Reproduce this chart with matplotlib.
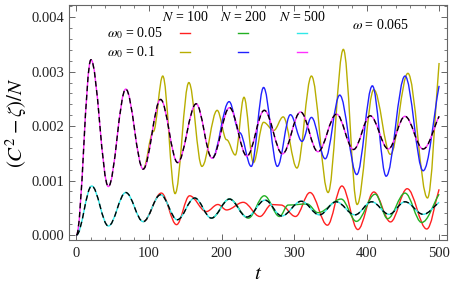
import matplotlib
matplotlib.use("Agg")
import matplotlib.pyplot as plt
from matplotlib.path import Path
from matplotlib.patches import PathPatch
from matplotlib.ticker import MultipleLocator, FormatStrFormatter

plt.rcParams['font.family'] = ['Liberation Serif', 'DejaVu Serif']
plt.rcParams['mathtext.fontset'] = 'stix'

# turning points (t, value in units of 1e-3)
# N = 500 curves coincide with the dashed black reference
t_up = [0, 20, 44, 68, 92, 116, 139.5, 165, 187, 211, 235, 259, 284, 309, 333, 358.6, 382, 405, 430, 453, 478, 500]
v_up = [0, 3.22, 0.89, 2.68, 1.21, 2.49, 1.33, 2.41, 1.41, 2.34, 1.45, 2.29, 1.49, 2.26, 1.53, 2.22, 1.57, 2.19, 1.58, 2.18, 1.58, 2.18]

t_lo = [0, 21, 44, 68, 92, 116, 139, 163, 186, 211, 235, 260, 283, 310, 335, 358, 384, 407, 431, 453, 478, 500]
v_lo = [0, 0.90, 0.165, 0.78, 0.245, 0.74, 0.28, 0.68, 0.31, 0.66, 0.33, 0.64, 0.35, 0.62, 0.37, 0.61, 0.37, 0.61, 0.38, 0.61, 0.38, 0.60]

# N = 100, w0 = 0.1 (from where it leaves the reference)
t_yel = [92, 106, 119, 136, 155, 173, 194, 207, 219, 231, 244, 258, 272, 285, 304, 324, 347, 368, 387, 410, 433, 457, 484, 500]
v_yel = [1.21, 1.90, 2.92, 0.76, 2.80, 1.26, 2.29, 1.75, 1.47, 2.53, 1.33, 2.07, 1.92, 2.17, 1.23, 2.92, 0.78, 3.41, 0.56, 2.67, 1.48, 2.97, 0.68, 3.16]

# N = 200, w0 = 0.1
t_blu = [187, 210.5, 225, 241, 258, 277, 295, 311, 324, 343, 363, 386.5, 408, 427, 453, 478, 500]
v_blu = [1.41, 2.45, 1.88, 1.26, 2.71, 1.26, 2.21, 1.72, 2.16, 1.40, 2.57, 1.11, 2.74, 1.08, 2.92, 1.18, 2.74]

# N = 100, w0 = 0.05
t_red = [92, 117, 138, 156, 179, 195, 207, 230, 253, 269, 282, 302, 322, 346, 366, 388, 410, 433, 456, 483, 500]
v_red = [0.245, 0.77, 0.19, 0.72, 0.43, 0.56, 0.46, 0.60, 0.34, 0.56, 0.55, 0.34, 0.78, 0.18, 0.90, 0.10, 0.79, 0.24, 0.85, 0.11, 0.84]

# N = 200, w0 = 0.05
t_grn = [186, 211, 237, 259, 280, 292, 318, 333, 365, 386, 412, 429, 453, 476, 500]
v_grn = [0.31, 0.66, 0.31, 0.72, 0.34, 0.55, 0.57, 0.41, 0.66, 0.25, 0.75, 0.30, 0.77, 0.23, 0.75]

N_labels = ['$N$ = 100', '$N$ = 200', '$N$ = 500']
w0_labels = [r'$\omega_0$ = 0.05', r'$\omega_0$ = 0.1']

C_RED, C_YEL = '#ff2020', '#b8ae00'
C_GRN, C_BLU = '#22b022', '#2020ff'
C_CYA, C_MAG = '#30e8e8', '#ff30ff'


def wave_path(ts, vs, k=0.36):
    # cubic segments between turning points, flat tangents at the extrema
    verts = [(ts[0], vs[0] * 1e-3)]
    codes = [Path.MOVETO]
    for i in range(len(ts) - 1):
        t0, t1 = ts[i], ts[i + 1]
        v0, v1 = vs[i] * 1e-3, vs[i + 1] * 1e-3
        dt = t1 - t0
        end_v = v1 if i < len(ts) - 2 else v1 - k * (v1 - v0)
        verts += [(t0 + k * dt, v0), (t1 - k * dt, end_v), (t1, v1)]
        codes += [Path.CURVE4] * 3
    return Path(verts, codes)


def add_curve(ax, ts, vs, color, ls='-', z=2):
    ax.add_patch(PathPatch(wave_path(ts, vs), fill=False, edgecolor=color,
                           lw=1.0, linestyle=ls, zorder=z, capstyle='butt'))


fig = plt.figure(figsize=(4.59, 2.86), dpi=100)
ax = fig.add_axes([0.150, 0.162, 0.824, 0.8205])

add_curve(ax, t_red, v_red, C_RED)
add_curve(ax, t_grn, v_grn, C_GRN)
add_curve(ax, t_lo, v_lo, C_CYA, z=3)
add_curve(ax, t_yel, v_yel, C_YEL)
add_curve(ax, t_blu, v_blu, C_BLU)
add_curve(ax, t_up, v_up, C_MAG, z=3)
add_curve(ax, t_lo, v_lo, 'black', ls=(0, (4, 2.5)), z=4)
add_curve(ax, t_up, v_up, 'black', ls=(0, (4, 2.5)), z=4)

ax.set_xlim(-10.5, 511)
ax.set_ylim(-0.000086, 0.004225)

ax.xaxis.set_major_locator(MultipleLocator(100))
ax.xaxis.set_minor_locator(MultipleLocator(20))
ax.yaxis.set_major_locator(MultipleLocator(0.001))
ax.yaxis.set_minor_locator(MultipleLocator(0.0002))
ax.yaxis.set_major_formatter(FormatStrFormatter('%.3f'))

frame = '#666666'
for s in ax.spines.values():
    s.set_color(frame)
    s.set_linewidth(0.8)
ax.tick_params(which='both', direction='in', top=True, right=True,
               color=frame, labelsize=10.5, labelcolor='#222222')
ax.tick_params(axis='x', pad=5)
ax.tick_params(axis='y', pad=3)
ax.tick_params(which='major', length=4, width=0.7)
ax.tick_params(which='minor', length=2, width=0.6)

ax.set_xlabel('$t$', fontsize=15, labelpad=4)
ax.set_ylabel(r'$(C^2 - \zeta)/N$', fontsize=15, labelpad=2)

# hand-made legend block
col_x = [0.308, 0.460, 0.616]
row_y = [0.881, 0.800]
line_cols = [[C_RED, C_GRN, C_CYA], [C_YEL, C_BLU, C_MAG]]
for x, lab in zip(col_x, N_labels):
    ax.text(x, 0.949, lab, transform=ax.transAxes, ha='center', va='center', fontsize=10)
for y, lab in zip(row_y, w0_labels):
    ax.text(0.100, y, lab, transform=ax.transAxes, ha='left', va='center', fontsize=10)
for y, cols in zip(row_y, line_cols):
    for x, c in zip(col_x, cols):
        ax.plot([x - 0.014, x + 0.013], [y, y], transform=ax.transAxes, color=c, lw=1.0)
ax.text(0.825, 0.915, r'$\omega$ = 0.065', transform=ax.transAxes, ha='center', va='center', fontsize=10)

fig.savefig('out.png', dpi=100)
